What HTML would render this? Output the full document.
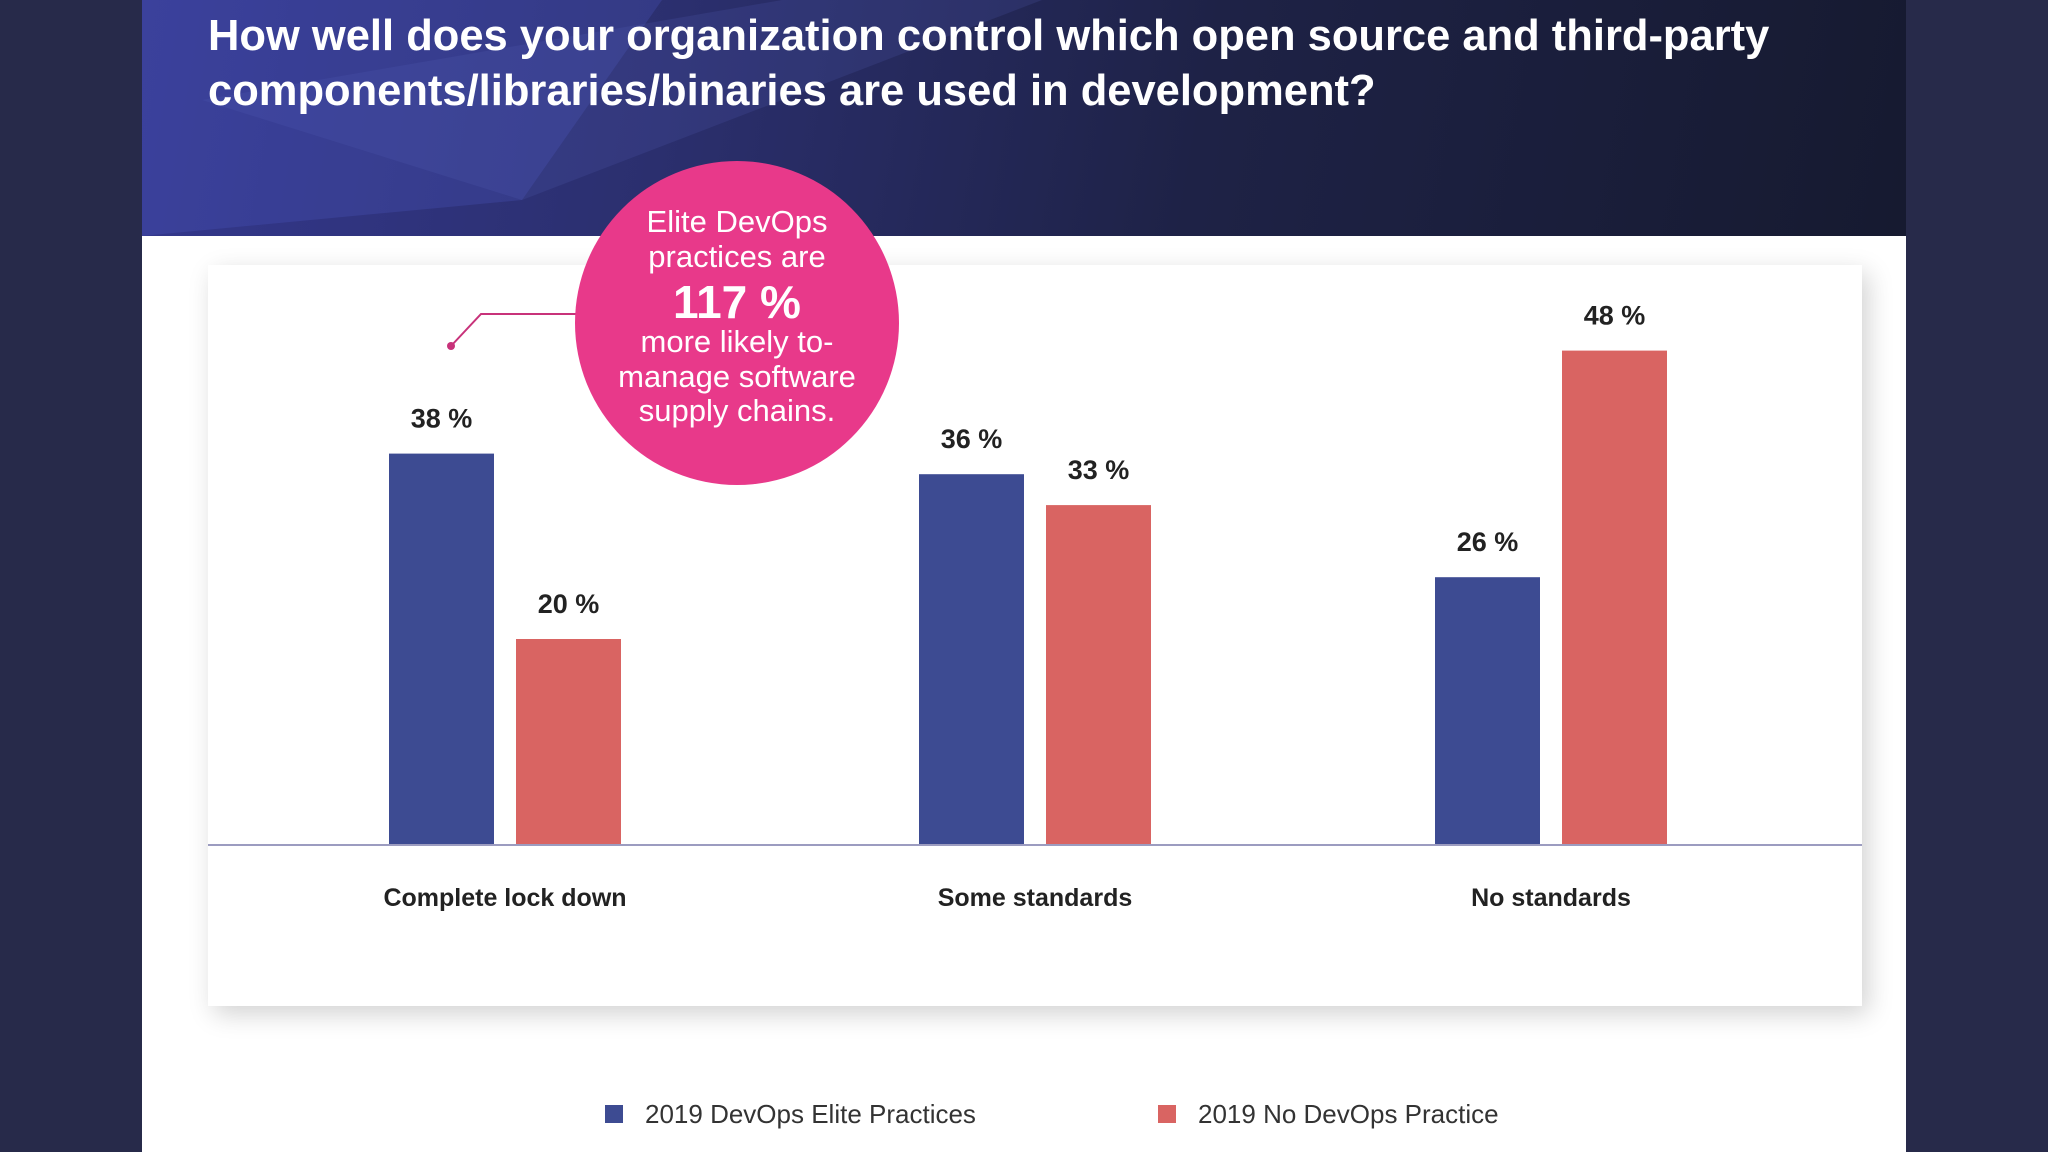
<!DOCTYPE html>
<html><head><meta charset="utf-8"><style>
html,body{margin:0;padding:0}
body{width:2048px;height:1152px;position:relative;overflow:hidden;background:#272a4a;font-family:"Liberation Sans",sans-serif}
#page{position:absolute;left:142px;top:0;width:1764px;height:1152px;background:#fff}
#header{position:absolute;left:0;top:0;width:1764px;height:236px;background:linear-gradient(100deg,#34388e 0%,#2b2f6e 30%,#1e2246 60%,#161a30 100%);overflow:hidden}
#title{position:absolute;left:66px;top:9px;color:#fff;font-weight:bold;font-size:43.5px;line-height:55px;margin:0;white-space:nowrap}
#card{position:absolute;left:66px;top:265px;width:1654px;height:741px;background:#fff;box-shadow:6px 8px 24px rgba(0,0,0,0.18)}
</style></head><body>
<div id="page">
<div id="header">
<svg width="1764" height="236" style="position:absolute;left:0;top:0">
<polygon points="0,0 520,0 380,200 0,236" fill="rgba(80,90,200,0.25)"/>
<polygon points="60,100 640,0 900,0 380,200" fill="rgba(90,100,190,0.18)"/>
</svg>
<h1 id="title">How well does your organization control which open source and third-party<br>components/libraries/binaries are used in development?</h1>
</div>
<div id="card"></div>
</div>
<svg id="chart" width="2048" height="1152" style="position:absolute;left:0;top:0"></svg>
<script>
const categories=["Complete lock down","Some standards","No standards"];
const eliteValues=[38,36,26];
const noDevOpsValues=[20,33,48];
const seriesNames=["2019 DevOps Elite Practices","2019 No DevOps Practice"];
const NS="http://www.w3.org/2000/svg";
const svg=document.getElementById('chart');
const baseY=845, pxPerPct=10.3;
const groupCenters=[505,1035,1551];
const barW=105, gap=22;
function y(v){return baseY-v*pxPerPct;}
function mk(tag,attrs,text){const e=document.createElementNS(NS,tag);for(const k in attrs)e.setAttribute(k,attrs[k]);if(text!==undefined)e.textContent=text;svg.appendChild(e);return e;}
const colors=["#3d4b92","#d96462"];
[eliteValues,noDevOpsValues].forEach((vals,s)=>{
  vals.forEach((v,i)=>{
    const x=groupCenters[i]+(s===0?-(barW+gap/2):gap/2);
    const r=mk('rect',{x:x,y:y(v),width:barW,height:baseY-y(v),fill:colors[s]});
    
    
    const t=mk('text',{x:x+barW/2,y:y(v)-26,'text-anchor':'middle','font-size':27,'font-weight':'bold',fill:'#222','font-family':'Liberation Sans'},v+' %');
    
    
  });
});
const axis=mk('line',{x1:208,x2:1862,y1:baseY,y2:baseY,stroke:'#9c9cc0','stroke-width':2});


categories.forEach((c,i)=>{
  const t=mk('text',{x:groupCenters[i],y:906,'text-anchor':'middle','font-size':25,'font-weight':'bold',fill:'#222'},c);
  
  
});
const ln=mk('polyline',{points:'451,346 481,314 580,314',fill:'none',stroke:'#c8327a','stroke-width':2});


const dot=mk('circle',{cx:451,cy:346,r:4,fill:'#c8327a'});


const bub=mk('circle',{cx:737,cy:323,r:162,fill:'#e8398a'});


const lines=[["Elite DevOps",232,31,'normal'],["practices are",267,31,'normal'],["117 %",318,46,'bold'],["more likely to-",352,31,'normal'],["manage software",387,31,'normal'],["supply chains.",421,31,'normal']];
lines.forEach(l=>{
  const t=mk('text',{x:737,y:l[1],'text-anchor':'middle','font-size':l[2],'font-weight':l[3],fill:'#fff'},l[0]);
  
  
});
const legX=[605,1158];
seriesNames.forEach((n,i)=>{
  const r=mk('rect',{x:legX[i],y:1105,width:18,height:18,fill:colors[i]});
  
  
  const t=mk('text',{x:legX[i]+40,y:1123,'font-size':26,fill:'#333'},n);
  
  
});
</script>
</body></html>
